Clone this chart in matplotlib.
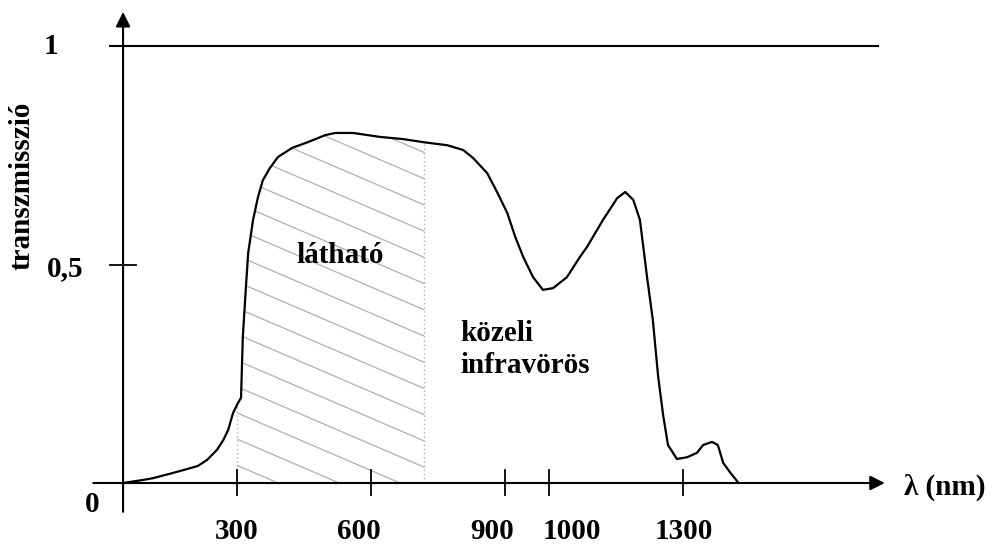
import matplotlib.pyplot as plt
import numpy as np
from matplotlib.path import Path
from matplotlib.patches import PathPatch

# Transmission curve (wavelength in nm, transmission 0..1)
wavelength = [43, 88, 110, 155, 187, 211, 232, 254, 268, 279, 290, 301, 308, 312,
              319, 324, 335, 346, 357, 373, 391, 423, 458, 497, 519, 560, 620,
              672, 717, 771, 807, 829, 861, 883, 906, 924, 942, 964, 986, 1009,
              1040, 1069, 1085, 1121, 1153, 1171, 1189, 1204, 1220, 1233, 1245,
              1256, 1267, 1287, 1310, 1332, 1346, 1366, 1379, 1391, 1406, 1424]
transmission = [0.0, 0.007, 0.011, 0.023, 0.032, 0.039, 0.053, 0.076, 0.098, 0.121,
                0.160, 0.183, 0.195, 0.334, 0.449, 0.526, 0.602, 0.654, 0.693,
                0.721, 0.746, 0.767, 0.780, 0.796, 0.801, 0.801, 0.792, 0.787,
                0.780, 0.773, 0.762, 0.744, 0.709, 0.666, 0.618, 0.563, 0.517,
                0.471, 0.442, 0.446, 0.471, 0.517, 0.540, 0.602, 0.652, 0.666,
                0.648, 0.602, 0.471, 0.373, 0.243, 0.156, 0.087, 0.055, 0.059,
                0.069, 0.087, 0.094, 0.087, 0.046, 0.025, 0.002]

x_ticks = [300, 600, 900, 1000, 1300]
x_tick_labels = ["300", "600", "900", "1000", "1300"]
visible_range = [300, 720]

wl = np.array(wavelength, dtype=float)
tr = np.array(transmission, dtype=float)

font = dict(family="Liberation Serif", weight="bold", color="black")
fs = 21

fig = plt.figure(figsize=(10.07, 5.5), dpi=100)
ax = fig.add_axes([0, 0, 1, 1])
ax.set_xlim(-233.4, 2028.5)
ax.set_ylim(-0.1533, 1.1053)
ax.axis("off")

# hatched "visible" region
lo, hi = visible_range
xs = np.linspace(lo, hi, 200)
ys = np.interp(xs, wl, tr)
verts = [(lo, 0)] + list(zip(xs, ys)) + [(hi, 0), (lo, 0)]
clip = PathPatch(Path(verts), facecolor="none", edgecolor="none")
ax.add_patch(clip)
for c in np.arange(0.04, 1.1, 0.06):
    hx = np.array([lo, hi])
    hy = c - 0.000438 * (hx - lo)
    (ln,) = ax.plot(hx, hy, color="#b0b0b0", lw=0.9)
    ln.set_clip_path(clip)

for xv in visible_range:
    ax.plot([xv, xv], [0, np.interp(xv, wl, tr)], color="#b0b0b0", lw=1,
            linestyle=(0, (1, 2)))

# curve
ax.plot(wl, tr, color="black", lw=1.6, solid_joinstyle="round")

# axes with arrows
ax.annotate("", xy=(1754, 0), xytext=(-24, 0),
            arrowprops=dict(arrowstyle="-|>", mutation_scale=22, lw=1.5,
                            color="black", shrinkA=0, shrinkB=0))
ax.annotate("", xy=(43, 1.078), xytext=(43, -0.066),
            arrowprops=dict(arrowstyle="-|>", mutation_scale=22, lw=1.5,
                            color="black", shrinkA=0, shrinkB=0))

# level 1 line and 0.5 tick
ax.plot([14, 1739], [1, 1], color="black", lw=1.5)
ax.plot([14, 72], [0.5, 0.5], color="black", lw=1.3)

for xv in x_ticks:
    ax.plot([xv, xv], [0.03, -0.027], color="black", lw=1.3)

label_pos = [299, 573, 873, 1051, 1303]
for xp, lab in zip(label_pos, x_tick_labels):
    ax.text(xp, -0.11, lab, ha="center", va="center", fontsize=fs, **font)

ax.text(-118, 1.0, "1", ha="center", va="center", fontsize=fs, **font)
ax.text(-88, 0.49, "0,5", ha="center", va="center", fontsize=fs, **font)
ax.text(-27, -0.05, "0", ha="center", va="center", fontsize=fs, **font)
ax.text(1797, -0.01, "λ (nm)", ha="left", va="center", fontsize=fs, **font)
ax.text(-184, 0.68, "transzmisszió", ha="center", va="center", rotation=90,
        fontsize=fs, **font)
ax.text(530, 0.52, "látható", ha="center", va="center", fontsize=fs, **font)
ax.text(800, 0.305, "közeli\ninfravörös", ha="left", va="center",
        fontsize=fs, linespacing=1.25, **font)

plt.savefig("out.png", dpi=100)
